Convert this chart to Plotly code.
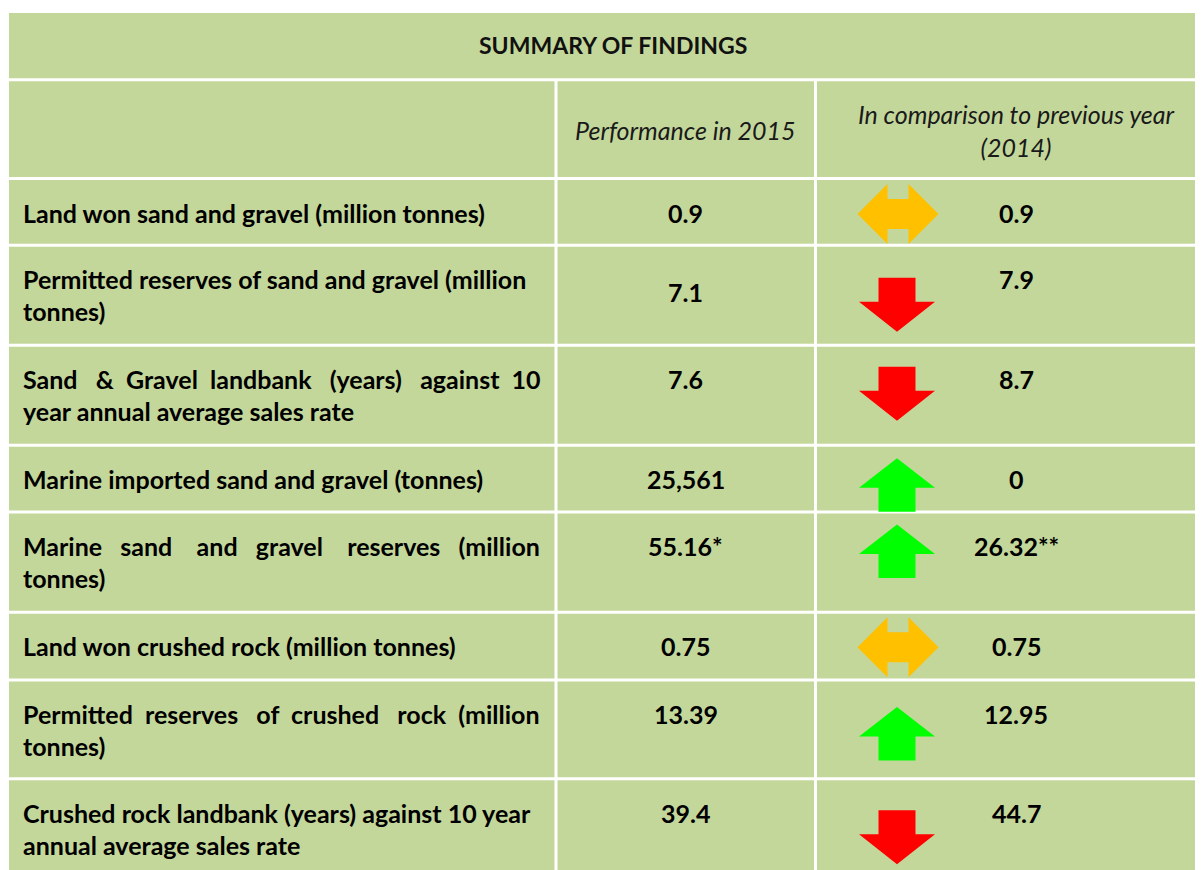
import plotly.graph_objects as go

# ---------------- data ----------------
title = "SUMMARY OF FINDINGS"
col_headers = ["", "Performance in 2015", "In comparison to previous year<br>(2014)"]
indicators = [
    "Land won sand and gravel (million tonnes)",
    "Permitted reserves of sand and gravel (million<br>tonnes)",
    "Sand & Gravel landbank (years) against 10<br>year annual average sales rate",
    "Marine imported sand and gravel (tonnes)",
    "Marine sand and gravel reserves (million<br>tonnes)",
    "Land won crushed rock (million tonnes)",
    "Permitted reserves of crushed rock (million<br>tonnes)",
    "Crushed rock landbank (years) against 10 year<br>annual average sales rate",
]
perf_2015 = ["0.9", "7.1", "7.6", "25,561", "55.16*", "0.75", "13.39", "39.4"]
prev_2014 = ["0.9", "7.9", "8.7", "0", "26.32**", "0.75", "12.95", "44.7"]
trend = ["same", "down", "down", "up", "up", "same", "up", "down"]

# ---------------- layout / style ----------------
PAGE_OFF = 8            # default body margin of the html page
W, H = 1203, 870
LEFT, RIGHT, TOP = 9, 1215, 13
GAP = 3
COL_LINES = [556, 815.5]
ROW_LINES = [79.7, 178.5, 245.3, 345.3, 445.3, 512, 612.3, 680, 778.7, 900]
ARROW_TOP_OFFSET = [4, 31, 20, 11.5, 11, 3.5, 25.5, 30]
JUSTIFY_EXTRA = {2: 9, 4: 12, 6: 7}
PERF_Y_SHIFT = {1: 13}
CELL = "#C4D79B"
FONT = "Lato"
FS = 25
TEXT_X = 21
COLORS = {"up": "#00FF00", "down": "#FF0000", "same": "#FFC000"}
ARROW_X = 897

fig = go.Figure()
shapes = []
annos = []


def rect(x0, x1, y0, y1):
    shapes.append(dict(type="rect", xref="x", yref="y", x0=x0, x1=x1, y0=y0, y1=y1,
                       fillcolor=CELL, line=dict(width=0), layer="below"))


# title row
rect(LEFT, RIGHT, TOP, ROW_LINES[0] - GAP / 2)
annos.append(dict(x=613, y=(TOP + ROW_LINES[0]) / 2 - 1, text="<b>" + title + "</b>",
                  showarrow=False, xanchor="center", yanchor="middle",
                  font=dict(family=FONT, size=23, color="#111111")))

col_edges = [LEFT] + COL_LINES + [RIGHT]
nrows = len(ROW_LINES) - 1
for r in range(nrows):
    y0 = ROW_LINES[r] + GAP / 2
    y1 = ROW_LINES[r + 1] - GAP / 2
    for c in range(3):
        x0 = col_edges[c] + (GAP / 2 if c > 0 else 0)
        x1 = col_edges[c + 1] - (GAP / 2 if c < 2 else 0)
        rect(x0, x1, y0, y1)

# header row
hy0 = ROW_LINES[0] + GAP / 2
hy1 = ROW_LINES[1] - GAP / 2
annos.append(dict(x=(COL_LINES[0] + COL_LINES[1]) / 2, y=(hy0 + hy1) / 2 + 1,
                  text="<i>" + col_headers[1] + "</i>", showarrow=False,
                  xanchor="center", yanchor="middle",
                  font=dict(family=FONT, size=FS, color="#1a1a1a")))
annos.append(dict(x=1016, y=(hy0 + hy1) / 2 + 1,
                  text="<i>" + col_headers[2] + "</i>", showarrow=False,
                  xanchor="center", yanchor="middle",
                  font=dict(family=FONT, size=FS, color="#1a1a1a")))


def justify(line, extra):
    """Spread `extra` non-breaking spaces as evenly as possible over the gaps."""
    words = line.split(" ")
    gaps = len(words) - 1
    out = words[0]
    done = 0
    for g in range(gaps):
        target = round(extra * (g + 1) / gaps)
        n = target - done
        done = target
        out += " " + "\u00a0" * n + words[g + 1]
    return out


LINE_H = 32
for i, txt in enumerate(indicators):
    top = ROW_LINES[i + 1] + GAP / 2
    lines = txt.split("<br>")
    for k, ln in enumerate(lines):
        if k == 0 and i in JUSTIFY_EXTRA:
            ln = justify(ln, JUSTIFY_EXTRA[i])
        annos.append(dict(x=TEXT_X, y=top + 32.5 + k * LINE_H, text="<b>" + ln + "</b>",
                          showarrow=False, xanchor="left", yanchor="middle",
                          font=dict(family=FONT, size=FS, color="black")))
    annos.append(dict(x=(COL_LINES[0] + COL_LINES[1]) / 2,
                      y=top + 32.5 + PERF_Y_SHIFT.get(i, 0),
                      text="<b>" + perf_2015[i] + "</b>", showarrow=False,
                      xanchor="center", yanchor="middle",
                      font=dict(family=FONT, size=FS, color="black")))
    annos.append(dict(x=1016, y=top + 32.5, text="<b>" + prev_2014[i] + "</b>",
                      showarrow=False, xanchor="center", yanchor="middle",
                      font=dict(family=FONT, size=FS, color="black")))

    # trend arrow
    at = top + ARROW_TOP_OFFSET[i]
    t = trend[i]
    cx = ARROW_X
    if t == "down":
        sw, hw, sl, hl = 18.5, 38, 24, 30
        pts = [(cx - sw, at), (cx + sw, at), (cx + sw, at + sl), (cx + hw, at + sl),
               (cx, at + sl + hl), (cx - hw, at + sl), (cx - sw, at + sl)]
    elif t == "up":
        sw, hw, sl, hl = 18.5, 38, 24, 29.5
        pts = [(cx, at), (cx + hw, at + hl), (cx + sw, at + hl), (cx + sw, at + hl + sl),
               (cx - sw, at + hl + sl), (cx - sw, at + hl), (cx - hw, at + hl)]
    else:
        cx = ARROW_X + 1
        hwid, hh, hl, sh = 40.5, 30, 30, 15
        cy = at + hh
        pts = [(cx - hwid, cy), (cx - hwid + hl, cy - hh), (cx - hwid + hl, cy - sh),
               (cx + hwid - hl, cy - sh), (cx + hwid - hl, cy - hh), (cx + hwid, cy),
               (cx + hwid - hl, cy + hh), (cx + hwid - hl, cy + sh), (cx - hwid + hl, cy + sh),
               (cx - hwid + hl, cy + hh)]
    path = "M " + " L ".join(f"{x},{y}" for x, y in pts) + " Z"
    shapes.append(dict(type="path", xref="x", yref="y", path=path,
                       fillcolor=COLORS[t], line=dict(width=0), layer="above"))

fig.update_layout(
    width=W - PAGE_OFF, height=H - PAGE_OFF,
    margin=dict(l=0, r=0, t=0, b=0, pad=0),
    paper_bgcolor="white", plot_bgcolor="white",
    xaxis=dict(range=[PAGE_OFF, W], visible=False, fixedrange=True),
    yaxis=dict(range=[H, PAGE_OFF], visible=False, fixedrange=True),
    shapes=shapes, annotations=annos, showlegend=False,
)
fig.write_html("out.html", config={"displayModeBar": False})
